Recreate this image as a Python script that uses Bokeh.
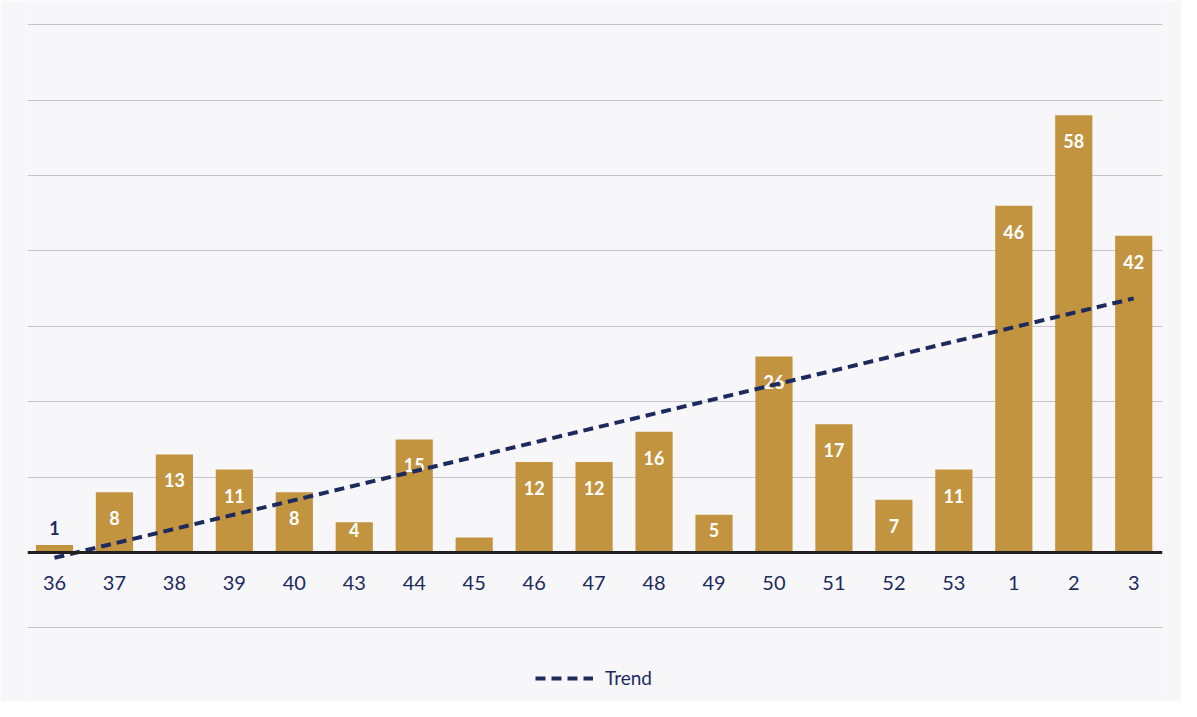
from bokeh.plotting import figure
from bokeh.models import ColumnDataSource, Span, Grid, FixedTicker, Legend, LegendItem, Range1d
from bokeh.core.properties import value
from bokeh.embed import file_html
from bokeh.resources import INLINE

# ---- data ----
weeks = ["36", "37", "38", "39", "40", "43", "44", "45", "46", "47",
         "48", "49", "50", "51", "52", "53", "1", "2", "3"]
counts = [1, 8, 13, 11, 8, 4, 15, 2, 12, 12, 16, 5, 26, 17, 7, 11, 46, 58, 42]
count_labels = ["1", "8", "13", "11", "8", "4", "15", "", "12", "12",
                "16", "5", "26", "17", "7", "11", "46", "58", "42"]
trend_start_end = [-0.7, 33.7]
grid_values = [-10, 10, 20, 30, 40, 50, 60, 70]

# ---- styling ----
BAR = "#c39440"
NAVY = "#1c2a5e"
BG = "#f7f7f9"
FONT = "Lato"

idx = list(range(len(weeks)))
label_y = [v + 2.3 if v <= 1 else max(v - 3.45, 3.05) for v in counts]
label_col = [NAVY if v <= 1 else "white" for v in counts]

p = figure(width=1181, height=701, output_backend="svg", toolbar_location=None,
           title=None, x_axis_type=None, y_axis_type=None,
           x_range=Range1d(-0.45, 18.48), y_range=Range1d(-19.76, 72.94),
           min_border_left=27, min_border_right=19, min_border_top=2, min_border_bottom=0)
p.background_fill_color = BG
p.border_fill_color = BG
p.outline_line_color = None

p.add_layout(Grid(dimension=1, ticker=FixedTicker(ticks=grid_values),
                  grid_line_color="#c4c4c8", grid_line_width=1))

src = ColumnDataSource(dict(x=idx, top=counts, wk=weeks, lab=count_labels,
                            ly=label_y, lc=label_col))

p.vbar(x="x", top="top", bottom=0, width=0.62, source=src,
       fill_color=BAR, line_color=None)

p.add_layout(Span(location=0, dimension="width", line_color="#231f20", line_width=3))

# category labels under the baseline
p.text(x="x", y=-4.0, text="wk", source=src, text_align="center",
       text_baseline="middle", text_font=value(FONT), text_font_size="20px",
       text_color=NAVY)

# value labels
p.text(x="x", y="ly", text="lab", source=src, text_align="center",
       text_baseline="middle", text_font=value(FONT), text_font_size="18px",
       text_font_style="bold", text_color="lc")

trend = p.line(x=[idx[0], idx[-1]], y=trend_start_end, line_color=NAVY,
               line_width=4, line_dash="10 6")

legend = Legend(items=[LegendItem(label="Trend", renderers=[trend])],
                location=(508, 12), orientation="horizontal",
                background_fill_alpha=0, border_line_color=None,
                label_text_font=FONT, label_text_font_size="19px",
                label_text_color=NAVY, glyph_width=58, glyph_height=20,
                label_height=20, label_standoff=12, padding=0, margin=0)
p.add_layout(legend)

open("out.html", "w").write(file_html(p, INLINE))
